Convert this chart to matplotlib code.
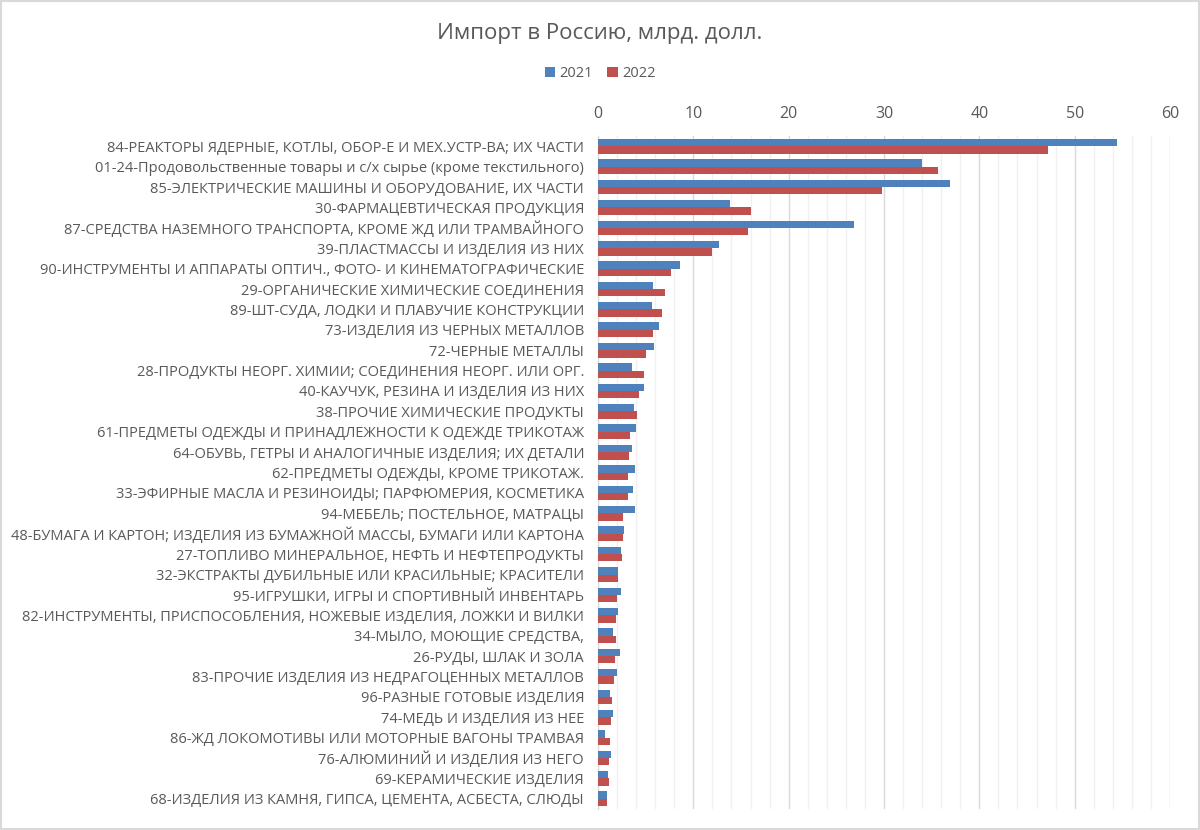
import numpy as np
import matplotlib.pyplot as plt
from matplotlib.ticker import MultipleLocator

plt.rcParams['font.family'] = ['Open Sans', 'DejaVu Sans']

# Data (bn USD), top to bottom as in the chart
categories = [
    '84-РЕАКТОРЫ ЯДЕРНЫЕ, КОТЛЫ, ОБОР-Е И МЕХ.УСТР-ВА; ИХ ЧАСТИ',
    '01-24-Продовольственные товары и с/х сырье (кроме текстильного)',
    '85-ЭЛЕКТРИЧЕСКИЕ МАШИНЫ И ОБОРУДОВАНИЕ, ИХ ЧАСТИ',
    '30-ФАРМАЦЕВТИЧЕСКАЯ ПРОДУКЦИЯ',
    '87-СРЕДСТВА НАЗЕМНОГО ТРАНСПОРТА, КРОМЕ ЖД ИЛИ ТРАМВАЙНОГО',
    '39-ПЛАСТМАССЫ И ИЗДЕЛИЯ ИЗ НИХ',
    '90-ИНСТРУМЕНТЫ И АППАРАТЫ ОПТИЧ., ФОТО- И КИНЕМАТОГРАФИЧЕСКИЕ',
    '29-ОРГАНИЧЕСКИЕ ХИМИЧЕСКИЕ СОЕДИНЕНИЯ',
    '89-ШТ-СУДА, ЛОДКИ И ПЛАВУЧИЕ КОНСТРУКЦИИ',
    '73-ИЗДЕЛИЯ ИЗ ЧЕРНЫХ МЕТАЛЛОВ',
    '72-ЧЕРНЫЕ МЕТАЛЛЫ',
    '28-ПРОДУКТЫ НЕОРГ. ХИМИИ; СОЕДИНЕНИЯ НЕОРГ. ИЛИ ОРГ.',
    '40-КАУЧУК, РЕЗИНА И ИЗДЕЛИЯ ИЗ НИХ',
    '38-ПРОЧИЕ ХИМИЧЕСКИЕ ПРОДУКТЫ',
    '61-ПРЕДМЕТЫ ОДЕЖДЫ И ПРИНАДЛЕЖНОСТИ К ОДЕЖДЕ ТРИКОТАЖ',
    '64-ОБУВЬ, ГЕТРЫ И АНАЛОГИЧНЫЕ ИЗДЕЛИЯ; ИХ ДЕТАЛИ',
    '62-ПРЕДМЕТЫ ОДЕЖДЫ, КРОМЕ ТРИКОТАЖ.',
    '33-ЭФИРНЫЕ МАСЛА И РЕЗИНОИДЫ; ПАРФЮМЕРИЯ, КОСМЕТИКА',
    '94-МЕБЕЛЬ; ПОСТЕЛЬНОЕ, МАТРАЦЫ',
    '48-БУМАГА И КАРТОН; ИЗДЕЛИЯ ИЗ БУМАЖНОЙ МАССЫ, БУМАГИ ИЛИ КАРТОНА',
    '27-ТОПЛИВО МИНЕРАЛЬНОЕ, НЕФТЬ И НЕФТЕПРОДУКТЫ',
    '32-ЭКСТРАКТЫ ДУБИЛЬНЫЕ ИЛИ КРАСИЛЬНЫЕ; КРАСИТЕЛИ',
    '95-ИГРУШКИ, ИГРЫ И СПОРТИВНЫЙ ИНВЕНТАРЬ',
    '82-ИНСТРУМЕНТЫ, ПРИСПОСОБЛЕНИЯ, НОЖЕВЫЕ ИЗДЕЛИЯ, ЛОЖКИ И ВИЛКИ',
    '34-МЫЛО, МОЮЩИЕ СРЕДСТВА,',
    '26-РУДЫ, ШЛАК И ЗОЛА',
    '83-ПРОЧИЕ ИЗДЕЛИЯ ИЗ НЕДРАГОЦЕННЫХ МЕТАЛЛОВ',
    '96-РАЗНЫЕ ГОТОВЫЕ ИЗДЕЛИЯ',
    '74-МЕДЬ И ИЗДЕЛИЯ ИЗ НЕЕ',
    '86-ЖД ЛОКОМОТИВЫ ИЛИ МОТОРНЫЕ ВАГОНЫ ТРАМВАЯ',
    '76-АЛЮМИНИЙ И ИЗДЕЛИЯ ИЗ НЕГО',
    '69-КЕРАМИЧЕСКИЕ ИЗДЕЛИЯ',
    '68-ИЗДЕЛИЯ ИЗ КАМНЯ, ГИПСА, ЦЕМЕНТА, АСБЕСТА, СЛЮДЫ',
]
imp_2021 = [54.4, 34.0, 36.9, 13.8, 26.9, 12.7, 8.6, 5.8, 5.7, 6.4, 5.9,
            3.6, 4.8, 3.8, 4.0, 3.6, 3.9, 3.7, 3.9, 2.7, 2.4, 2.1,
            2.4, 2.1, 1.6, 2.3, 2.0, 1.3, 1.6, 0.7, 1.4, 1.1, 0.9]
imp_2022 = [47.2, 35.7, 29.8, 16.0, 15.7, 12.0, 7.7, 7.0, 6.7, 5.8, 5.0,
            4.8, 4.3, 4.1, 3.4, 3.3, 3.1, 3.1, 2.6, 2.6, 2.5, 2.1,
            2.0, 1.9, 1.9, 1.8, 1.7, 1.5, 1.4, 1.3, 1.2, 1.2, 1.0]
years = ['2021', '2022']

blue = '#4F81BD'
red = '#C0504D'
grey = '#595959'

fig = plt.figure(figsize=(12, 8.3), dpi=100)
ax = fig.add_axes([0.4983, 0.0253, 0.4767, 0.8107])

y = np.arange(len(categories))
h = 0.36
ax.barh(y - h / 2, imp_2021, height=h, color=blue, label=years[0], zorder=3)
ax.barh(y + h / 2, imp_2022, height=h, color=red, label=years[1], zorder=3)

ax.set_ylim(len(categories) - 0.5, -0.5)
ax.set_yticks(y)
ax.set_yticklabels(categories, fontsize=10.5, color=grey)
ax.tick_params(axis='y', length=0, pad=10)

ax.set_xlim(0, 60)
ax.xaxis.set_major_locator(MultipleLocator(10))
ax.xaxis.set_minor_locator(MultipleLocator(2))
ax.xaxis.tick_top()
ax.tick_params(axis='x', which='both', length=0, labelsize=11.5,
               labelcolor=grey, pad=10)
ax.grid(axis='x', which='major', color='#D9D9D9', linewidth=1, zorder=0)
ax.grid(axis='x', which='minor', color='#F0F0F0', linewidth=1, zorder=0)

for s in ['top', 'right', 'bottom']:
    ax.spines[s].set_visible(False)
ax.spines['left'].set_color('#D9D9D9')

fig.text(0.5, 0.96, 'Импорт в Россию, млрд. долл.', ha='center', va='center',
         fontsize=16, color=grey)
fig.legend(loc='center', bbox_to_anchor=(0.5, 0.911), ncol=2, frameon=False,
           fontsize=10.5, handlelength=0.7, handleheight=0.7,
           handletextpad=0.3, columnspacing=1.0, labelcolor=grey)

# light border around the chart
fig.patches.append(plt.Rectangle((0.001, 0.001), 0.998, 0.998,
                                 transform=fig.transFigure, fill=False,
                                 edgecolor='#D9D9D9', linewidth=1.5))

fig.savefig('out.png', dpi=100)
